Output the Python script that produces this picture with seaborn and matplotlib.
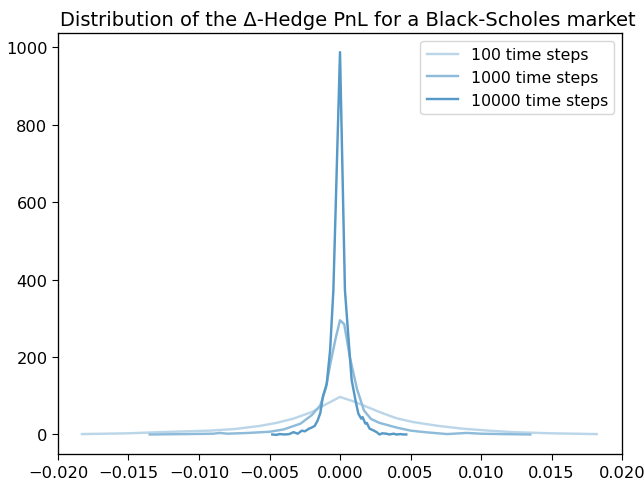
import numpy as np
import pandas as pd
import matplotlib
matplotlib.use("Agg")
import matplotlib.pyplot as plt
import seaborn as sns

labels = ["100 time steps", "1000 time steps", "10000 time steps"]

x100 = [-0.0183, -0.0150, -0.0128, -0.0110, -0.0092, -0.0075, -0.0057, -0.0045,
        -0.0033, -0.0020, -0.0010, 0.0, 0.0010, 0.0020, 0.0028, 0.0040, 0.0052,
        0.0070, 0.0087, 0.0105, 0.0123, 0.0150, 0.0182]
y100 = [1, 3, 6, 8, 10, 14, 22, 30, 41, 58, 78, 97, 85, 70, 58, 42, 32, 22, 15,
        10, 6, 3, 1]

x1000 = [-0.0135, -0.0110, -0.0090, -0.0085, -0.0080, -0.0065, -0.0050, -0.0040,
         -0.0028, -0.0020, -0.0014, -0.0010, -0.0007, -0.0003, 0.0, 0.0003, 0.0007,
         0.0012, 0.0017, 0.0022, 0.0028, 0.0035, 0.0040, 0.0050, 0.0060, 0.0076,
         0.0090, 0.0100, 0.0115, 0.0135]
y1000 = [0, 1, 2, 4, 2, 4, 7, 13, 28, 50, 75, 120, 180, 250, 295, 285, 200, 118,
         62, 40, 30, 23, 18, 10, 6, 1, 4, 2, 1, 0]

x10000 = [-0.0048, -0.0045, -0.0043, -0.0039, -0.0036, -0.0033, -0.0030, -0.0027,
          -0.0025, -0.0022, -0.0020, -0.0018, -0.0016, -0.0014, -0.0012, -0.00094,
          -0.0007, -0.00047, 0.0, 0.00035, 0.0007, 0.00083, 0.0011, 0.0013, 0.0015,
          0.0016, 0.0018, 0.0019, 0.0021, 0.0024, 0.0026, 0.0028, 0.0030, 0.0033,
          0.0035, 0.0038, 0.0040, 0.0043, 0.0045, 0.0047]
y10000 = [0, -1, 1, 0, 1, 6, 2, 10, 8, 15, 18, 22, 35, 55, 100, 131, 218, 373,
          988, 373, 200, 140, 88, 54, 41, 45, 28, 30, 15, 10, 6, 0, 3, 2, 0, 2,
          0, 1, 0, 0]

df = pd.concat([
    pd.DataFrame({"x": x100, "y": y100, "series": labels[0]}),
    pd.DataFrame({"x": x1000, "y": y1000, "series": labels[1]}),
    pd.DataFrame({"x": x10000, "y": y10000, "series": labels[2]}),
])

base = np.array(matplotlib.colors.to_rgb("#1f77b4"))
alphas = [0.3, 0.5, 0.75]
palette = {lab: tuple(1 - a * (1 - base)) for lab, a in zip(labels, alphas)}

fs = 11.7
plt.rcParams.update({
    "font.size": fs,
    "xtick.labelsize": fs,
    "ytick.labelsize": fs,
    "legend.fontsize": 11.3,
    "xtick.major.size": 4.1,
    "ytick.major.size": 4.1,
    "axes.linewidth": 0.95,
})

fig = plt.figure(figsize=(6.44, 4.81), dpi=100)
ax = fig.add_axes([58 / 644, 26 / 481, 564 / 644, 421 / 481])
sns.lineplot(data=df, x="x", y="y", hue="series", palette=palette,
             estimator=None, sort=False, linewidth=1.75, ax=ax)
ax.set_xlim(-0.02, 0.02)
ax.set_xticks(np.arange(-0.02, 0.0201, 0.005))
ax.set_xlabel("")
ax.set_ylabel("")
ax.set_title("Distribution of the Δ-Hedge PnL for a Black-Scholes market",
             fontsize=14, x=0.514)
ax.legend(title=None, loc="upper right")
fig.savefig("out.png", dpi=100)
